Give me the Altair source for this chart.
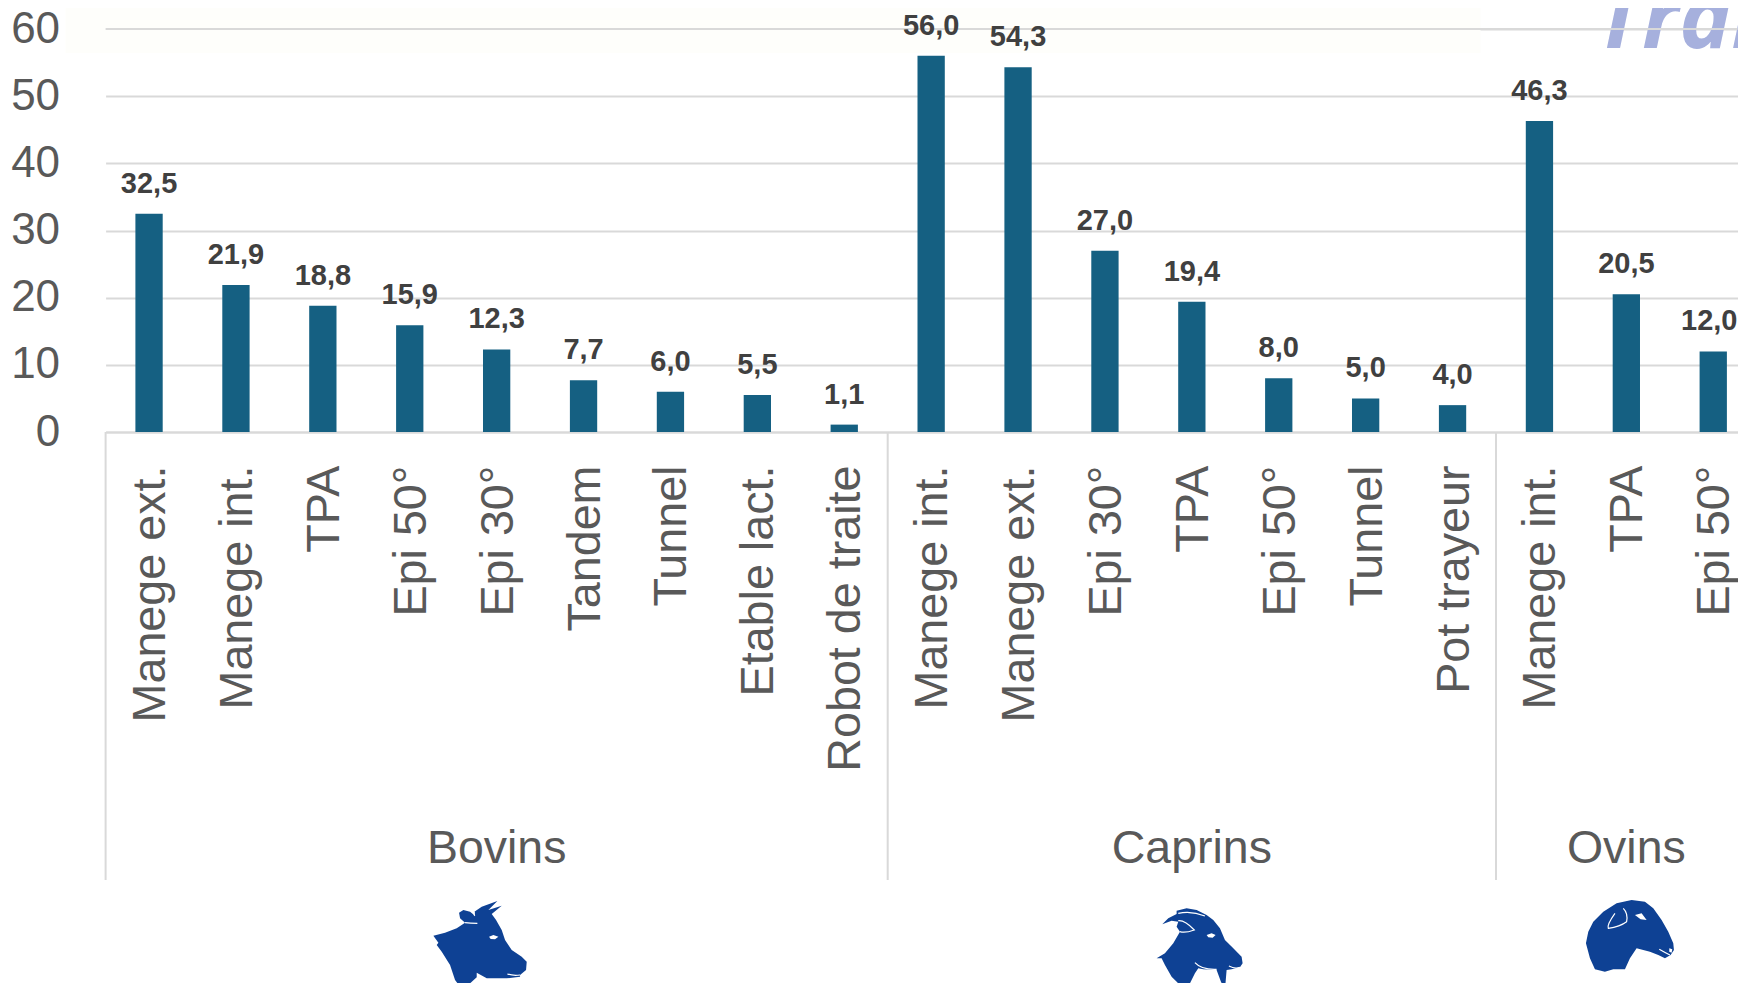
import altair as alt
import pandas as pd

groups = ["Bovins"] * 9 + ["Caprins"] * 7 + ["Ovins"] * 3
categories = ["Manege ext.", "Manege int.", "TPA", "Epi 50°", "Epi 30°", "Tandem", "Tunnel", "Etable lact.", "Robot de traite",
              "Manege int.", "Manege ext.", "Epi 30°", "TPA", "Epi 50°", "Tunnel", "Pot trayeur",
              "Manege int.", "TPA", "Epi 50°"]
values = [32.5, 21.9, 18.8, 15.9, 12.3, 7.7, 6.0, 5.5, 1.1,
          56.0, 54.3, 27.0, 19.4, 8.0, 5.0, 4.0,
          46.3, 20.5, 12.0]
group_names = ["Bovins", "Caprins", "Ovins"]
group_centers = [4, 12, 17]
group_starts = [0, 9, 16]

STEP = 86.9
PLOT_H = 403
FONT = "Liberation Sans"
GREY = "#595959"
ICON = "#0e4194"


def path(points, origin=(180, 150)):
    ox, oy = origin
    return "M" + "L".join(f"{x - ox},{y - oy}" for x, y in points) + "Z"


cow_outline = [(40, 137), (75, 128), (110, 115), (135, 98), (120, 85), (117, 68), (130, 60), (150, 65), (165, 77), (163, 65),
               (185, 50), (232, 33), (205, 60), (245, 47), (215, 72), (228, 90), (245, 120), (255, 150), (275, 180), (305, 200),
               (320, 215), (318, 240), (300, 255), (300, 260), (260, 265), (200, 265), (170, 248), (170, 262), (150, 280),
               (130, 303), (105, 270), (90, 225), (65, 185), (50, 165), (55, 158)]
cow_eye = [(207, 140), (212, 147), (225, 148), (235, 140), (220, 135)]
goat_outline = [(52, 103), (70, 85), (95, 72), (95, 62), (125, 55), (155, 60), (185, 75), (205, 90), (225, 115), (240, 150),
                (265, 175), (290, 200), (293, 220), (285, 232), (260, 238), (245, 240), (240, 300), (228, 275), (215, 240),
                (175, 238), (160, 235), (150, 250), (135, 280), (130, 303), (105, 285), (80, 260), (60, 225), (50, 205),
                (35, 205), (60, 190), (85, 160), (105, 125), (95, 110), (100, 95), (80, 92)]
goat_eye = [(185, 135), (190, 142), (203, 143), (212, 135), (200, 130)]
sheep_outline = [(48, 160), (55, 125), (70, 95), (100, 65), (140, 40), (185, 30), (225, 35), (250, 55), (275, 90), (295, 125),
                 (310, 160), (312, 180), (302, 195), (285, 205), (265, 195), (240, 185), (200, 175), (180, 205), (165, 238),
                 (130, 238), (105, 245), (75, 238), (60, 205)]
sheep_eye = [(195, 75), (212, 88), (230, 90), (215, 70)]
sheep_nose = [(298, 175), (298, 185), (305, 188), (307, 178)]

cow_shape = path(cow_outline) + path(cow_eye)
goat_shape = path(goat_outline) + path(goat_eye)
sheep_shape = path(sheep_outline) + path(sheep_eye) + path(sheep_nose)

cow_lines = "M-45,-52Q-30,-50 -8,-50M-17,-85Q-20,-75 -15,-73M82,102Q100,108 120,105"
goat_lines = "M-80,-80Q-40,-88 0,-72M-80,-58Q-60,-60 -32,-30Q-60,-20 -75,-25M72,78Q90,88 105,82M-30,68Q-10,90 35,88"
sheep_lines = "M-45,-80Q-70,-45 -65,-35Q-30,-40 -10,-55Q-5,-80 -20,-95M88,28Q105,38 120,45"

keys = [f"{g}|{c}|{i}" for i, (g, c) in enumerate(zip(groups, categories))]
df = pd.DataFrame({"key": keys, "value": values, "label": [f"{v:.1f}".replace(".", ",") for v in values]})
group_df = pd.DataFrame({"key": [keys[i] for i in group_centers], "name": group_names})
sep_df = pd.DataFrame({"key": [keys[i] for i in group_starts]})

x_scale = alt.Scale(paddingInner=0, paddingOuter=0, range=[0, STEP * 19])
x = alt.X("key:N", sort=keys, title=None, scale=x_scale,
          axis=alt.Axis(labelExpr="split(datum.label, '|')[1]", labelAngle=-90, labelAlign="right", labelBaseline="middle",
                        labelFont=FONT, labelFontSize=46.7, labelColor=GREY, labelPadding=33, labelOffset=2, labelLimit=0,
                        ticks=False, domainColor="#d9d9d9", domainWidth=2, grid=False))
y = alt.Y("value:Q", title=None,
          scale=alt.Scale(domain=[0, 60], nice=False),
          axis=alt.Axis(values=[0, 10, 20, 30, 40, 50, 60], labelFont=FONT, labelFontSize=44, labelColor=GREY, labelPadding=46,
                        ticks=False, domain=False, gridColor="#d9d9d9", gridWidth=2))

bars = alt.Chart(df).mark_bar(size=27.3, color="#156082").encode(x=x, y=y)

band = alt.Chart(df.head(1)).mark_rect(color="#fefefb").encode(
    x=alt.value(-40), x2=alt.value(1375), y=alt.value(-21), y2=alt.value(24))
script = alt.Chart(df.head(1).assign(t="Trai")).mark_text(
    font="Open Sans", fontStyle="italic", fontWeight="bold", fontSize=88, color="#a6b0dd", align="left", baseline="alphabetic").encode(
    x=alt.value(1490), y=alt.value(19), text="t:N")
rule60 = alt.Chart(pd.DataFrame({"v": [60]})).mark_rule(color="#d9d9d9", strokeWidth=2).encode(
    y=alt.Y("v:Q", scale=alt.Scale(domain=[0, 60], nice=False)))

labels = alt.Chart(df.iloc[:-1]).mark_text(font=FONT, fontWeight="bold", fontSize=29, color="#404040",
                                           baseline="alphabetic", dy=-21).encode(x=x, y=y, text="label:N")
last_label = alt.Chart(df.iloc[-1:]).mark_text(font=FONT, fontWeight="bold", fontSize=29, color="#404040",
                                               baseline="alphabetic", dy=-21, dx=-4).encode(x=x, y=y, text="label:N")
group_text = alt.Chart(group_df).mark_text(font=FONT, fontSize=46.5, color=GREY, baseline="alphabetic").encode(
    x=alt.X("key:N", sort=keys, title=None), y=alt.value(834), text="name:N")
seps = alt.Chart(sep_df).mark_rule(color="#d9d9d9", strokeWidth=2, xOffset=-STEP / 2).encode(
    x=alt.X("key:N", sort=keys, title=None), y=alt.value(PLOT_H), y2=alt.value(851))


def icon(index, shape, lines, offset):
    base = alt.Chart(pd.DataFrame({"key": [keys[index]]}))
    enc = dict(x=alt.X("key:N", sort=keys, title=None), y=alt.value(911))
    return (base.mark_point(shape=shape, size=4 / 9, filled=True, fill=ICON, opacity=1, strokeWidth=0, xOffset=offset).encode(**enc)
            + base.mark_point(shape=lines, size=4 / 9, filled=False, stroke="white", opacity=1, strokeWidth=1.2, xOffset=offset).encode(**enc))


chart = alt.layer(
    band, script, rule60, bars, labels, last_label, group_text, seps,
    icon(4, cow_shape, cow_lines, -16.6),
    icon(12, goat_shape, goat_lines, 13.1),
    icon(17, sheep_shape, sheep_lines, 3.6),
).properties(
    width=1632, height=PLOT_H,
    padding={"left": 97.6, "top": 21, "right": 0, "bottom": 551},
    autosize=alt.AutoSizeParams(type="none"),
).configure_view(stroke=None)

chart.save("out.html", embed_options={"renderer": "svg", "actions": False})
